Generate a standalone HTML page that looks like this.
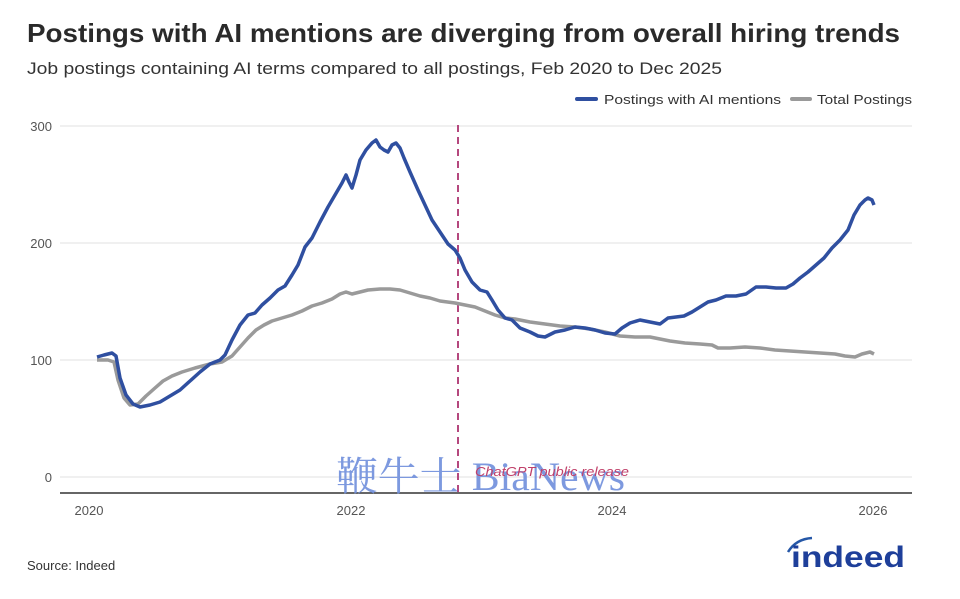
<!DOCTYPE html>
<html><head><meta charset="utf-8"><style>
body{margin:0;background:#fff;width:960px;height:594px;overflow:hidden;font-family:"Liberation Sans","Noto Sans CJK SC",sans-serif;}
</style></head><body>
<svg width="960" height="594" xmlns="http://www.w3.org/2000/svg" font-family="Liberation Sans, Noto Sans CJK SC, sans-serif">
<text x="27" y="42" font-size="26" font-weight="bold" fill="#2a2a2a" textLength="873" lengthAdjust="spacingAndGlyphs">Postings with AI mentions are diverging from overall hiring trends</text>
<text x="27" y="74" font-size="17" fill="#333" textLength="695" lengthAdjust="spacingAndGlyphs">Job postings containing AI terms compared to all postings, Feb 2020 to Dec 2025</text>
<line x1="577" y1="99" x2="596" y2="99" stroke="#2f4fa0" stroke-width="4" stroke-linecap="round"/>
<text x="604" y="104" font-size="13" fill="#333" textLength="177" lengthAdjust="spacingAndGlyphs">Postings with AI mentions</text>
<line x1="792" y1="99" x2="810" y2="99" stroke="#9a9a9a" stroke-width="4" stroke-linecap="round"/>
<text x="817" y="104" font-size="13" fill="#333" textLength="95" lengthAdjust="spacingAndGlyphs">Total Postings</text>
<g stroke="#e2e2e2" stroke-width="1">
<line x1="60" y1="126" x2="912" y2="126"/><line x1="60" y1="243" x2="912" y2="243"/>
<line x1="60" y1="360" x2="912" y2="360"/><line x1="60" y1="477" x2="912" y2="477"/>
</g>
<g font-size="13" fill="#555" text-anchor="end">
<text x="52" y="131">300</text><text x="52" y="248">200</text><text x="52" y="365">100</text><text x="52" y="482">0</text>
</g>
<line x1="60" y1="493" x2="912" y2="493" stroke="#333" stroke-width="1.5"/>
<g font-size="13" fill="#555" text-anchor="middle">
<text x="89" y="515">2020</text><text x="351" y="515">2022</text><text x="612" y="515">2024</text><text x="873" y="515">2026</text>
</g>
<line x1="458" y1="125" x2="458" y2="493" stroke="#b5487e" stroke-width="2" stroke-dasharray="7,5"/>
<polyline fill="none" stroke="#9a9a9a" stroke-width="3.5" stroke-linejoin="round" points="97,360 108,360 114,362 118,380 124,398 130,405 138,404 146,396 155,388 163,381 172,376 182,372 195,368 210,364 222,362 232,356 240,347 248,338 256,330 264,325 272,321 282,318 292,315 302,311 312,306 322,303 332,299 340,294 346,292 352,294 360,292 368,290 380,289 390,289 400,290 410,293 420,296 430,298 440,301 455,303 465,305 475,307 485,311 495,315 505,318 515,319 530,322 545,324 560,326 575,327 590,329 605,332 620,336 635,337 650,337 660,339 670,341 685,343 700,344 712,345 718,348 730,348 745,347 760,348 775,350 790,351 805,352 820,353 835,354 845,356 855,357 862,354 870,352 874,354"/>
<polyline fill="none" stroke="#2f4fa0" stroke-width="3.5" stroke-linejoin="round" points="97,357 104,355 112,353 116,356 120,378 126,395 133,404 140,407 150,405 160,402 170,396 180,390 190,381 200,372 210,364 220,360 225,355 232,340 240,325 248,315 255,313 262,305 270,298 278,290 285,286 292,275 298,265 305,247 312,238 320,222 328,207 335,195 342,183 346,175 349,182 352,188 356,175 360,160 366,150 372,143 376,140 380,147 384,150 388,152 392,145 396,143 400,148 404,158 410,172 418,190 425,205 432,220 440,232 448,244 455,250 460,258 465,270 472,282 480,290 487,292 492,300 498,310 505,318 512,320 520,328 530,332 538,336 545,337 555,332 565,330 575,327 585,328 595,330 605,333 615,334 622,328 630,323 640,320 650,322 660,324 668,318 676,317 684,316 692,312 700,307 708,302 716,300 726,296 736,296 746,294 756,287 766,287 776,288 786,288 793,284 800,278 808,272 816,265 824,258 832,248 840,240 848,230 854,215 860,205 865,200 868,198 872,200 874,205"/>
<text x="336" y="490" font-size="40" font-family="Liberation Serif, Noto Serif CJK SC, serif" fill="#6f8fdc" opacity="0.9" textLength="289" lengthAdjust="spacingAndGlyphs">鞭牛士 BiaNews</text>
<text x="475" y="476" font-size="13" font-style="italic" fill="#c0406a" textLength="154" lengthAdjust="spacingAndGlyphs">ChatGPT public release</text>
<text x="27" y="570" font-size="13" fill="#333">Source: Indeed</text>
<path d="M788,552 Q796,539 812,538" fill="none" stroke="#2557a7" stroke-width="2.5"/>
<text x="791" y="567" font-size="30" font-weight="bold" fill="#1e3f9a" textLength="114" lengthAdjust="spacingAndGlyphs">indeed</text>
</svg>
</body></html>
